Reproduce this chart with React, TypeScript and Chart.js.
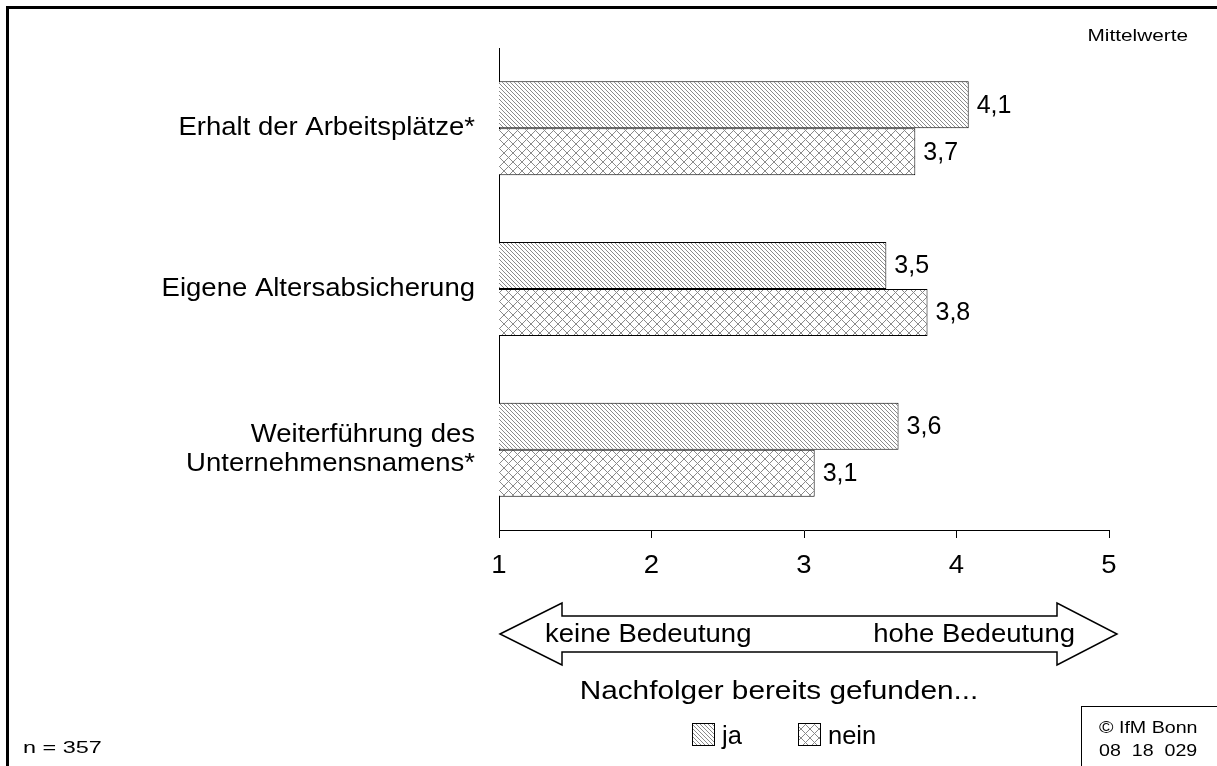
import React, { useEffect, useRef } from "react";
import { Chart, registerables } from "chart.js";

Chart.register(...registerables);

const categories: string[][] = [
  ["Erhalt der Arbeitsplätze*"],
  ["Eigene Altersabsicherung"],
  ["Weiterführung des", "Unternehmensnamens*"],
];
const jaValues = [4.08, 3.54, 3.62];
const neinValues = [3.73, 3.81, 3.07];
const seriesNames = ["ja", "nein"];
const xTicks = [1, 2, 3, 4, 5];

const FONT = "'Liberation Sans', Arial, sans-serif";
const BIG = 25;
const BIG_SX = 1.1;
const SMALL = 16.5;

function makePattern(kind: "diag" | "cross"): CanvasPattern | string {
  const c = document.createElement("canvas");
  const s = kind === "diag" ? 4 : 9;
  c.width = s;
  c.height = s;
  const g = c.getContext("2d");
  if (!g) return "#ccc";
  g.fillStyle = "#fff";
  g.fillRect(0, 0, s, s);
  g.strokeStyle = "#8a8a8a";
  g.lineWidth = 1;
  g.beginPath();
  g.moveTo(-1, -1);
  g.lineTo(s + 1, s + 1);
  if (kind === "cross") {
    g.moveTo(s + 1, -1);
    g.lineTo(-1, s + 1);
  }
  g.stroke();
  const p = g.createPattern(c, "repeat");
  return p || "#ccc";
}

function txt(
  c: CanvasRenderingContext2D,
  s: string,
  x: number,
  y: number,
  size: number,
  sx: number,
  align: "left" | "right" | "center"
) {
  c.save();
  c.font = `${size}px ${FONT}`;
  c.fillStyle = "#000";
  c.textBaseline = "middle";
  c.textAlign = align;
  c.translate(x, y);
  c.scale(sx, 1);
  c.fillText(s, 0, 0);
  c.restore();
}

export default function App() {
  const ref = useRef<HTMLCanvasElement>(null);
  useEffect(() => {
    const canvas = ref.current;
    if (!canvas) return;
    const ctx = canvas.getContext("2d");
    if (!ctx) return;
    const pJa = makePattern("diag");
    const pNein = makePattern("cross");

    const labelsPlugin = {
      id: "valueLabels",
      afterDatasetsDraw(chart: any) {
        const c = chart.ctx;
        chart.data.datasets.forEach((ds: any, di: number) => {
          const meta = chart.getDatasetMeta(di);
          meta.data.forEach((bar: any, i: number) => {
            const v = ds.data[i] as number;
            const t = v.toFixed(1).replace(".", ",");
            txt(c, t, bar.x + 8, bar.y + 1, BIG, 1.0, "left");
          });
        });
      },
    };

    const axisLabelsPlugin = {
      id: "axisLabels",
      afterDraw(chart: any) {
        const c = chart.ctx;
        const xs = chart.scales.x;
        const ys = chart.scales.y;
        xTicks.forEach((v) => {
          txt(c, String(v), xs.getPixelForValue(v), 566, BIG, BIG_SX, "center");
        });
        const lh = 29;
        categories.forEach((lines, i) => {
          const cy = ys.getPixelForValue(i);
          const n = lines.length;
          lines.forEach((ln, j) => {
            txt(c, ln, 475, cy + (j - (n - 1) / 2) * lh, BIG, BIG_SX, "right");
          });
        });
      },
    };

    const decorPlugin = {
      id: "decor",
      afterDraw(chart: any) {
        const c = chart.ctx;
        c.save();
        c.strokeStyle = "#000";
        c.lineWidth = 3;
        c.beginPath();
        c.moveTo(7.5, 766);
        c.lineTo(7.5, 7.5);
        c.lineTo(1217, 7.5);
        c.stroke();
        c.restore();

        txt(c, "Mittelwerte", 1188, 36, SMALL, 1.26, "right");
        txt(c, "n = 357", 23, 748, SMALL, 1.42, "left");

        // double arrow
        const y0 = 634;
        const xl = 500, xr = 1117, hb1 = 562, hb2 = 1057;
        const sh = 18, hh = 31;
        c.save();
        c.lineWidth = 1.5;
        c.strokeStyle = "#000";
        c.fillStyle = "#fff";
        c.beginPath();
        c.moveTo(xl, y0);
        c.lineTo(hb1, y0 - hh);
        c.lineTo(hb1, y0 - sh);
        c.lineTo(hb2, y0 - sh);
        c.lineTo(hb2, y0 - hh);
        c.lineTo(xr, y0);
        c.lineTo(hb2, y0 + hh);
        c.lineTo(hb2, y0 + sh);
        c.lineTo(hb1, y0 + sh);
        c.lineTo(hb1, y0 + hh);
        c.closePath();
        c.fill();
        c.stroke();
        c.restore();
        txt(c, "keine Bedeutung", 545, y0 + 1, BIG, BIG_SX, "left");
        txt(c, "hohe Bedeutung", 1075, y0 + 1, BIG, BIG_SX, "right");

        txt(c, "Nachfolger bereits gefunden...", 779, 692, BIG, 1.19, "center");

        // legend
        const items = [
          { x: 692, label: seriesNames[0], p: pJa },
          { x: 798, label: seriesNames[1], p: pNein },
        ];
        items.forEach((it) => {
          c.save();
          c.fillStyle = it.p as any;
          c.fillRect(it.x, 723, 23, 23);
          c.strokeStyle = "#000";
          c.lineWidth = 1;
          c.strokeRect(it.x + 0.5, 723.5, 22, 22);
          c.restore();
          txt(c, it.label, it.x + 30, 737, BIG, 1.02, "left");
        });

        // copyright box
        c.save();
        c.strokeStyle = "#000";
        c.lineWidth = 1;
        c.strokeRect(1081.5, 706.5, 200, 80);
        c.restore();
        txt(c, "© IfM Bonn", 1099, 728, SMALL, 1.19, "left");
        txt(c, "08  18  029", 1099, 751, SMALL, 1.19, "left");
      },
    };

    const chart = new Chart(ctx, {
      type: "bar",
      data: {
        labels: categories.map((l) => l.join(" ")),
        datasets: [
          {
            label: seriesNames[0],
            data: jaValues,
            backgroundColor: pJa as any,
            borderColor: "#000",
            borderWidth: 1,
            borderSkipped: false,
          },
          {
            label: seriesNames[1],
            data: neinValues,
            backgroundColor: pNein as any,
            borderColor: "#000",
            borderWidth: 1,
            borderSkipped: false,
          },
        ],
      },
      options: {
        indexAxis: "y",
        animation: false,
        responsive: false,
        maintainAspectRatio: false,
        events: [],
        layout: { padding: { left: 0, top: 48, right: 108, bottom: 176 } },
        datasets: { bar: { categoryPercentage: 0.585, barPercentage: 1 } },
        plugins: {
          legend: { display: false },
          tooltip: { enabled: false },
        },
        scales: {
          x: {
            type: "linear",
            min: 1,
            max: 5,
            afterBuildTicks: (scale: any) => {
              scale.ticks = xTicks.map((v) => ({ value: v }));
            },
            afterFit: (scale: any) => {
              scale.height = 60;
            },
            ticks: { display: false },
            grid: {
              display: true,
              drawOnChartArea: false,
              drawTicks: true,
              tickLength: 8,
              color: "#000",
            },
            border: { display: true, color: "#000", width: 1 },
          },
          y: {
            afterFit: (scale: any) => {
              scale.width = 499;
            },
            ticks: { display: false },
            grid: { display: false, drawTicks: false },
            border: { display: true, color: "#000", width: 1 },
          },
        },
      },
      plugins: [labelsPlugin, axisLabelsPlugin, decorPlugin],
    });
    return () => chart.destroy();
  }, []);

  return (
    <div style={{ position: "absolute", left: 0, top: 0, width: 1217, height: 766, background: "#fff" }}>
      <canvas ref={ref} width={1217} height={766} style={{ width: 1217, height: 766, display: "block" }} />
    </div>
  );
}
